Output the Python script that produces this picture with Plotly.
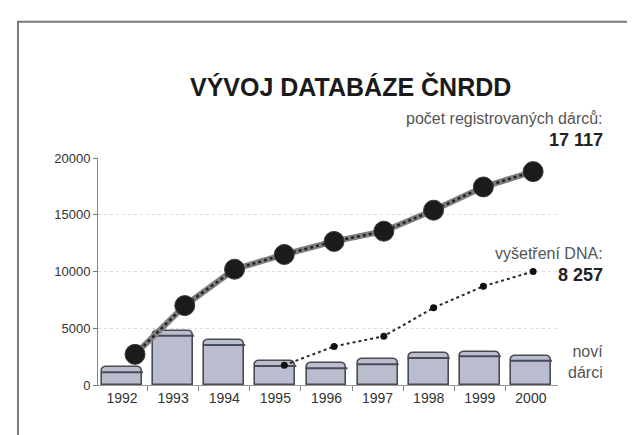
import plotly.graph_objects as go

# ---- data ----
years = [1992, 1993, 1994, 1995, 1996, 1997, 1998, 1999, 2000]
year_labels = [str(y) for y in years]
new_donors = [1550, 4750, 3950, 2100, 1900, 2250, 2800, 2950, 2550]
registered = [2700, 7000, 10200, 11500, 12650, 13550, 15400, 17450, 18800]
dna_years = [1995, 1996, 1997, 1998, 1999, 2000]
dna_tests = [1750, 3400, 4300, 6800, 8700, 10000]
y_ticks = [0, 5000, 10000, 15000, 20000]

title_text = "VÝVOJ DATABÁZE ČNRDD"
reg_label = "počet registrovaných dárců:"
reg_value = "17 117"
dna_label = "vyšetření DNA:"
dna_value = "8 257"
new_label = "noví<br>dárci"

FONT = "Liberation Sans, Arial, sans-serif"
RIM_OFFSET = 420  # depth of the cylinder top rim, in data units

fig = go.Figure()

# new donors: cylinder-like bars
fig.add_trace(go.Bar(
    x=years, y=new_donors, width=0.78,
    marker=dict(color="#b9bdcd", line=dict(color="#4a4a52", width=1.6),
                cornerradius=5),
    xaxis="x", yaxis="y", showlegend=False, hoverinfo="x+y",
))
# cylinder rim line under each bar top
fig.add_trace(go.Scatter(
    x=years, y=[v - RIM_OFFSET for v in new_donors], mode="markers",
    marker=dict(symbol="line-ew", size=30, line=dict(color="#4a4a58", width=2)),
    xaxis="x", yaxis="y", showlegend=False, hoverinfo="skip",
))

# registered donors: thick beaded line
fig.add_trace(go.Scatter(
    x=years, y=registered, mode="lines",
    line=dict(color="#808080", width=6),
    xaxis="x2", yaxis="y", showlegend=False, hoverinfo="skip",
))
fig.add_trace(go.Scatter(
    x=years, y=registered, mode="lines+markers",
    line=dict(color="#222222", width=2.5, dash="dot"),
    marker=dict(size=20, color="#1b1b1b", line=dict(color="#3a3a3a", width=1)),
    xaxis="x2", yaxis="y", showlegend=False,
))

# DNA tests: thin dotted line
fig.add_trace(go.Scatter(
    x=dna_years, y=dna_tests, mode="lines+markers",
    line=dict(color="#2a2a2a", width=2, dash="dot"),
    marker=dict(size=7, color="#111111"),
    xaxis="x2", yaxis="y", showlegend=False,
))

fig.update_layout(
    width=635, height=435,
    margin=dict(l=90, r=85, t=150, b=58),
    paper_bgcolor="#ffffff", plot_bgcolor="#ffffff",
    font=dict(family=FONT, color="#333333"),
    bargap=0,
    xaxis=dict(
        range=[1991.53, 2000.53], tickmode="array",
        tickvals=years, ticktext=year_labels, ticks="",
        tickfont=dict(size=14, color="#333333"),
        showline=True, linecolor="#9a9a9a", linewidth=1,
        showgrid=False, zeroline=False, fixedrange=True,
        minor=dict(ticks="outside", tickvals=[y + 0.5 for y in years[:-1]],
                   ticklen=5, tickcolor="#888888", showgrid=False),
    ),
    xaxis2=dict(
        range=[1991.256, 2000.50], overlaying="x", visible=False,
        showgrid=False, zeroline=False,
    ),
    yaxis=dict(
        range=[0, 20000], tickmode="array", tickvals=y_ticks,
        ticktext=[str(v) for v in y_ticks],
        ticks="outside", ticklen=4, tickcolor="#777777",
        tickfont=dict(size=13, color="#333333"),
        showline=True, linecolor="#888888", linewidth=1,
        showgrid=True, gridcolor="#dcdcdc", griddash="dot", gridwidth=1,
        zeroline=False, fixedrange=True,
    ),
    annotations=[
        dict(text=title_text, xref="paper", yref="paper", x=0.548, y=1.317,
             xanchor="center", yanchor="middle", showarrow=False,
             font=dict(family=FONT, size=25, color="#1a1a1a", weight="bold")),
        dict(text=reg_label, xref="paper", yref="paper", x=1.102, y=1.176,
             xanchor="right", yanchor="middle", showarrow=False,
             font=dict(family=FONT, size=16, color="#555555")),
        dict(text=reg_value, xref="paper", yref="paper", x=1.102, y=1.079,
             xanchor="right", yanchor="middle", showarrow=False,
             font=dict(family=FONT, size=18, color="#222222", weight="bold")),
        dict(text=dna_label, xref="paper", yref="paper", x=1.102, y=0.581,
             xanchor="right", yanchor="middle", showarrow=False,
             font=dict(family=FONT, size=16, color="#555555")),
        dict(text=dna_value, xref="paper", yref="paper", x=1.102, y=0.485,
             xanchor="right", yanchor="middle", showarrow=False,
             font=dict(family=FONT, size=18, color="#222222", weight="bold")),
        dict(text=new_label, xref="paper", yref="paper", x=1.102, y=0.10,
             xanchor="right", yanchor="middle", showarrow=False, align="right",
             font=dict(family=FONT, size=16, color="#555555")),
    ],
    shapes=[
        dict(type="rect", xref="paper", yref="paper",
             x0=-0.174, x1=1.30, y0=-0.32, y1=1.60,
             line=dict(color="#7a7a7a", width=2), fillcolor="rgba(0,0,0,0)",
             layer="below"),
    ],
)

fig.write_html("out.html")
